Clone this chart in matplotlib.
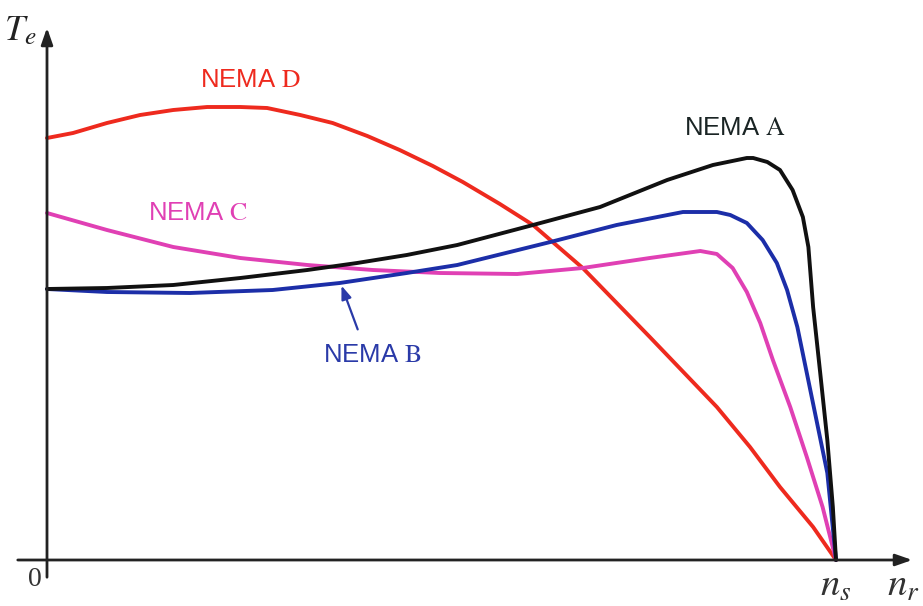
import matplotlib.pyplot as plt
import numpy as np

plt.rcParams['mathtext.fontset'] = 'stix'

# speed as fraction of synchronous speed n_s, torque in arbitrary units
speed_a = [0.0, 0.076, 0.160, 0.245, 0.330, 0.393, 0.456, 0.520, 0.616, 0.701,
           0.786, 0.844, 0.887, 0.895, 0.913, 0.929, 0.945, 0.958, 0.965, 0.971,
           0.980, 0.989, 0.996, 1.0]
torque_a = [2.71, 2.72, 2.75, 2.82, 2.90, 2.97, 3.05, 3.15, 3.35, 3.53,
            3.80, 3.95, 4.02, 4.02, 3.98, 3.90, 3.70, 3.43, 3.13, 2.53,
            1.87, 1.20, 0.53, 0.0]

speed_b = [0.0, 0.076, 0.181, 0.286, 0.371, 0.456, 0.520, 0.638, 0.722, 0.806,
           0.849, 0.866, 0.887, 0.907, 0.925, 0.938, 0.951, 0.963, 0.976, 0.989,
           1.0]
torque_b = [2.71, 2.68, 2.67, 2.70, 2.77, 2.87, 2.95, 3.18, 3.35, 3.48,
            3.48, 3.45, 3.37, 3.20, 2.97, 2.70, 2.33, 1.87, 1.37, 0.87,
            0.0]

speed_c = [0.0, 0.076, 0.160, 0.245, 0.330, 0.413, 0.498, 0.596, 0.679, 0.764,
           0.828, 0.849, 0.869, 0.887, 0.904, 0.920, 0.942, 0.963, 0.983, 1.0]
torque_c = [3.47, 3.30, 3.13, 3.02, 2.95, 2.90, 2.87, 2.86, 2.92, 3.02,
            3.09, 3.06, 2.92, 2.68, 2.37, 2.00, 1.53, 1.03, 0.53, 0.0]

speed_d = [0.0, 0.033, 0.076, 0.118, 0.160, 0.203, 0.245, 0.279, 0.321, 0.362,
           0.406, 0.447, 0.489, 0.527, 0.574, 0.616, 0.679, 0.764, 0.849, 0.891,
           0.929, 0.971, 1.0]
torque_d = [4.22, 4.27, 4.37, 4.45, 4.50, 4.53, 4.53, 4.52, 4.45, 4.37,
            4.24, 4.10, 3.94, 3.78, 3.56, 3.35, 2.92, 2.23, 1.53, 1.13,
            0.73, 0.33, 0.0]

fig = plt.figure(figsize=(9.23, 6.06), dpi=100)
ax = fig.add_axes([0, 0, 1, 1])
ax.set_xlim(-47 / 789, 876 / 789)
ax.set_ylim(-0.46, 5.60)
ax.axis('off')

lw = 2.8
style = dict(lw=lw, solid_capstyle='round', solid_joinstyle='round')
ax.plot(speed_d, torque_d, color='#ee2a1e', **style)
ax.plot(speed_c, torque_c, color='#e040b4', **style)
ax.plot(speed_b, torque_b, color='#1c2ea8', **style)
ax.plot(speed_a, torque_a, color='#111111', **style)

# axes with arrows
ax.annotate('', xy=(868 / 789, 0), xytext=(-32 / 789, 0),
            arrowprops=dict(arrowstyle='-|>,head_length=1.0,head_width=0.35',
                            color='#222222', lw=2))
ax.annotate('', xy=(0, 5.35), xytext=(0, -0.2),
            arrowprops=dict(arrowstyle='-|>,head_length=1.0,head_width=0.35',
                            color='#222222', lw=2))

ax.text(-0.016, -0.2, '0', fontsize=20, family='Liberation Serif', ha='center', va='center', color='#333333')
ax.text(-0.055, 5.30, r'$T_e$', fontsize=26, ha='left', va='center', color='#222222')
ax.text(1.0, -0.25, r'$n_s$', fontsize=28, ha='center', va='center', color='#333333')
ax.text(1.085, -0.25, r'$n_r$', fontsize=28, ha='center', va='center', color='#333333')

label_style = dict(fontsize=18.5, family='Liberation Sans', ha='center', va='center')
ax.text(0.258, 4.80, r'NEMA $\mathrm{D}$', color='#ee2a1e', **label_style)
ax.text(0.872, 4.32, r'NEMA $\mathrm{A}$', color='#1a2424', **label_style)
ax.text(0.191, 3.47, r'NEMA $\mathrm{C}$', color='#e040b4', **label_style)
ax.text(0.413, 2.05, r'NEMA $\mathrm{B}$', color='#2a3aa8', **label_style)
ax.annotate('', xy=(0.372, 2.77), xytext=(0.395, 2.28),
            arrowprops=dict(arrowstyle='-|>,head_length=0.8,head_width=0.3',
                            color='#2a3aa8', lw=1.6))

fig.savefig('out.png', dpi=100)
